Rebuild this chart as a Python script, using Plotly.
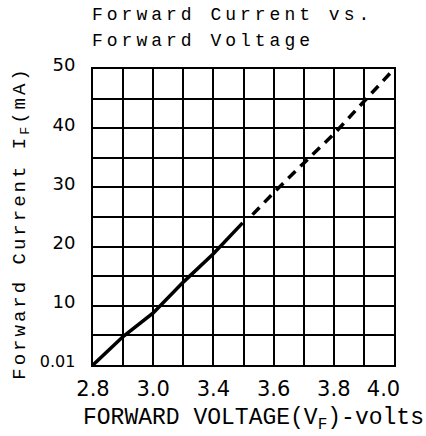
import plotly.graph_objects as go

# Grid-column positions (x) and forward current in mA (y)
solid_x = [0.0, 1.0, 2.0, 3.0, 4.0, 4.97]
solid_y = [0.0, 4.8, 8.8, 14.0, 18.8, 24.0]
dashed_x = [5.3, 6.0, 7.0, 8.0, 9.0, 10.0]
dashed_y = [25.4, 29.1, 34.1, 39.0, 44.5, 50.0]

x_tick_pos = [0, 2, 4, 6, 8, 9.65]
x_tick_labels = ["2.8", "3.0", "3.4", "3.6", "3.8", "4.0"]
y_tick_vals = [0, 10, 20, 30, 40, 50]
y_tick_labels = ["<span style='font-size:16px'>0.01</span>", "10", "20", "30", "40", "50"]

title_line1 = "Forward Current vs."
title_line2 = "Forward Voltage"
y_title = "Forward Current I<sub>F</sub>(mA)"
x_title = "FORWARD VOLTAGE(V<sub>F</sub>)-volts"

fig = go.Figure()
fig.add_trace(go.Scatter(x=solid_x, y=solid_y, mode="lines",
                         line=dict(color="black", width=3.5), showlegend=False))
fig.add_trace(go.Scatter(x=dashed_x, y=dashed_y, mode="lines",
                         line=dict(color="black", width=3.5, dash="10px,7px"), showlegend=False))

mono = "Liberation Mono"
fig.update_layout(
    width=426, height=436,
    margin=dict(l=93, r=32, t=69, b=71),
    paper_bgcolor="white", plot_bgcolor="white",
    xaxis=dict(range=[0, 10], showgrid=False, zeroline=False,
               tickmode="array", tickvals=x_tick_pos, ticktext=x_tick_labels,
               tickfont=dict(family="DejaVu Sans", size=21, color="black"),
               ticks="", ticklabelstandoff=4,
               showline=True, linecolor="black", linewidth=2, mirror=True,
               minor=dict(tickmode="linear", tick0=0, dtick=1, showgrid=True,
                          gridcolor="black", gridwidth=1.6, ticks="")),
    yaxis=dict(range=[0, 50], showgrid=False, zeroline=False,
               tickmode="array", tickvals=y_tick_vals, ticktext=y_tick_labels,
               tickfont=dict(family="DejaVu Sans", size=18, color="black"),
               ticks="", ticklabelstandoff=12, ticklabelshift=-4,
               showline=True, linecolor="black", linewidth=2, mirror=True,
               minor=dict(tickmode="linear", tick0=0, dtick=5, showgrid=True,
                          gridcolor="black", gridwidth=1.6, ticks="")),
    annotations=[
        dict(text=title_line1, xref="paper", yref="paper", x=-0.01, y=1.182,
             xanchor="left", yanchor="middle", showarrow=False, align="left",
             font=dict(family=mono, size=18, color="black")),
        dict(text=title_line2, xref="paper", yref="paper", x=-0.01, y=1.095,
             xanchor="left", yanchor="middle", showarrow=False, align="left",
             font=dict(family=mono, size=18, color="black")),
        dict(text=y_title, xref="paper", yref="paper", x=-0.24, y=0.48,
             xanchor="center", yanchor="middle", showarrow=False, textangle=-90,
             font=dict(family=mono, size=19, color="black")),
        dict(text=x_title, xref="paper", yref="paper", x=-0.04, y=-0.184,
             xanchor="left", yanchor="middle", showarrow=False, align="left",
             font=dict(family=mono, size=23, color="black")),
    ],
)

post_script = (
    "document.documentElement.style.margin='0';"
    "document.body.style.margin='0';"
    "var s=document.createElement('style');"
    "s.textContent='.annotation[data-index=\"0\"] text,.annotation[data-index=\"1\"] text"
    "{letter-spacing:4px}.annotation[data-index=\"2\"] text{letter-spacing:3px}';"
    "document.head.appendChild(s);"
)
fig.write_html("out.html", post_script=post_script, config={"displayModeBar": False})
